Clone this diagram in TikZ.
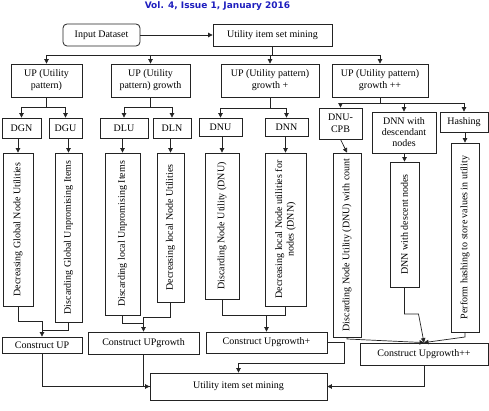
\documentclass[tikz,border=0pt]{standalone}
\usepackage{fontspec}
\setmainfont{Liberation Serif}
\newfontfamily\hdrfont{DejaVu Sans}
\usetikzlibrary{arrows.meta}
\definecolor{hdrblue}{RGB}{30,30,190}
\definecolor{ln}{RGB}{35,35,35}
\begin{document}
\begin{tikzpicture}[x=1pt,y=-1pt,
  box/.style={draw=ln, line width=0.8pt, inner sep=1pt, align=center, font=\fontsize{10}{12}\selectfont},
  tall/.style={draw=ln, line width=0.8pt, inner sep=0pt},
  vtext/.style={rotate=90, inner sep=0pt, align=center, font=\fontsize{10}{11.5}\selectfont},
  hdr/.style={inner sep=0pt, text=hdrblue, font=\hdrfont\fontsize{9}{10}\selectfont\bfseries},
  arr/.style={-{Triangle[length=4.5pt,width=4.5pt]}},
  con/.style={draw=ln, line width=0.7pt}]
\useasboundingbox (0,0) rectangle (489,411);

\node[hdr] (hdr) at (217.5,6.5) {Vol. 4, Issue 1, January 2016};

% top row
\node[box, rounded corners=4pt, minimum width=77pt, minimum height=22pt] (inp) at (101.5,35) {Input Dataset};
\node[box, minimum width=119pt, minimum height=22pt] (top) at (272.5,35) {Utility item set mining};

% UP boxes
\node[box, minimum width=71pt, minimum height=33pt] (up1) at (46.5,80.5) {UP (Utility\\pattern)};
\node[box, minimum width=79pt, minimum height=33pt] (up2) at (150.5,80.5) {UP (Utility\\pattern) growth};
\node[box, minimum width=98pt, minimum height=33pt] (up3) at (270,80.5) {UP (Utility pattern)\\growth +};
\node[box, minimum width=96pt, minimum height=33pt] (up4) at (380,80.5) {UP (Utility pattern)\\growth ++};

% small boxes
\node[box, minimum width=39pt, minimum height=20pt] (dgn) at (21.5,128) {DGN};
\node[box, minimum width=33pt, minimum height=20pt] (dgu) at (65.5,128) {DGU};
\node[box, minimum width=48pt, minimum height=20pt] (dlu) at (124,128) {DLU};
\node[box, minimum width=38pt, minimum height=20pt] (dln) at (172,128) {DLN};
\node[box, minimum width=43pt, minimum height=18pt] (dnu) at (220.5,127) {DNU};
\node[box, minimum width=43pt, minimum height=18pt] (dnn) at (286.5,127) {DNN};
\node[box, minimum width=43pt, minimum height=31pt] (cpb) at (340.5,123.5) {DNU-\\CPB};
\node[box, minimum width=64pt, minimum height=41pt, font=\fontsize{10}{11}\selectfont] (dsc) at (404,132.5) {DNN with\\descendant\\nodes};
\node[box, minimum width=48pt, minimum height=20pt] (hsh) at (464,122) {Hashing};

% tall boxes
\node[tall, minimum width=30pt, minimum height=153pt] (t1) at (18,229.5) {};
\node[tall, minimum width=27pt, minimum height=169pt] (t2) at (68.5,237.5) {};
\node[tall, minimum width=35pt, minimum height=162pt] (t3) at (122.5,234) {};
\node[tall, minimum width=27pt, minimum height=149pt] (t4) at (170.5,227.5) {};
\node[tall, minimum width=34pt, minimum height=146pt] (t5) at (222,226) {};
\node[tall, minimum width=41pt, minimum height=153pt] (t6) at (285.5,229.5) {};
\node[tall, minimum width=28pt, minimum height=184pt] (t7) at (347,245) {};
\node[tall, minimum width=29pt, minimum height=125pt] (t8) at (404.5,224.5) {};
\node[tall, minimum width=28pt, minimum height=189pt] (t9) at (465,237.5) {};

\node[vtext] (l1) at (t1.center) {Decreasing Global Node Utilities};
\node[vtext] (l2) at (t2.center) {Discarding Global Unpromising Items};
\node[vtext] (l3) at (t3.center) {Discarding local Unpromising Items};
\node[vtext] (l4) at (t4.center) {Decreasing local Node Utilities};
\node[vtext] (l5) at (t5.center) {Discarding Node Utility (DNU)};
\node[vtext] (l6) at (t6.center) {Decreasing local Node utilities for\\nodes (DNN)};
\node[vtext] (l7) at (t7.center) {Discarding Node Utility (DNU) with count};
\node[vtext] (l8) at (t8.center) {DNN with descent nodes};
\node[vtext] (l9) at (t9.center) {Perform hashing to store values in utility};

% construct boxes
\node[box, minimum width=80pt, minimum height=16pt] (c1) at (42,345) {Construct UP};
\node[box, minimum width=111pt, minimum height=22pt] (c2) at (143.5,343) {Construct UPgrowth};
\node[box, minimum width=121pt, minimum height=21pt] (c3) at (266.5,342.5) {Construct Upgrowth+};
\node[box, minimum width=128pt, minimum height=22pt] (c4) at (424,354) {Construct Upgrowth++};
\node[box, minimum width=177pt, minimum height=27pt] (bot) at (238.5,386.5) {Utility item set mining};

% bus coordinates
\coordinate (b0) at (0,55);
\coordinate (b1) at (0,107);
\coordinate (b3) at (0,108);
\coordinate (b4) at (0,103);

% top connectors
\draw[con,arr] (inp.east) -- (top.west);
\draw[con] (top.south) -- (top.south |- b0);
\draw[con] (up1.north |- b0) -- (up4.north |- b0);
\foreach \n in {up1,up2,up3,up4} {\draw[con,arr] (\n.north |- b0) -- (\n.north);}

% UP -> small boxes
\draw[con] (up1.south) -- (up1.south |- b1);
\draw[con] (dgn.north |- b1) -- (dgu.north |- b1);
\foreach \n in {dgn,dgu} {\draw[con,arr] (\n.north |- b1) -- (\n.north);}

\draw[con] (up2.south) -- (up2.south |- b1);
\draw[con] (dlu.north |- b1) -- (dln.north |- b1);
\foreach \n in {dlu,dln} {\draw[con,arr] (\n.north |- b1) -- (\n.north);}

\draw[con] (up3.south) -- (up3.south |- b3);
\draw[con] (dnu.north |- b3) -- (dnn.north |- b3);
\foreach \n in {dnu,dnn} {\draw[con,arr] (\n.north |- b3) -- (\n.north);}

\draw[con] (up4.south) -- (up4.south |- b4);
\draw[con] (cpb.north |- b4) -- (hsh.north |- b4);
\foreach \n in {cpb,dsc,hsh} {\draw[con,arr] (\n.north |- b4) -- (\n.north);}

% small -> tall
\draw[con,arr] (t1.north |- dgn.south) -- (t1.north);
\draw[con,arr] (t2.north |- dgu.south) -- (t2.north);
\draw[con,arr] (t3.north |- dlu.south) -- (t3.north);
\draw[con,arr] (t4.north |- dln.south) -- (t4.north);
\draw[con,arr] (t5.north |- dnu.south) -- (t5.north);
\draw[con,arr] (t6.north |- dnn.south) -- (t6.north);
\draw[con,arr] (cpb.south) -- (t7.north);
\draw[con,arr] (t8.north |- dsc.south) -- (t8.north);
\draw[con,arr] (t9.north |- hsh.south) -- (t9.north);

% tall -> construct
\coordinate (j1a) at (42,321);
\coordinate (j1b) at (42,330);
\draw[con,arr] (t1.south) |- (j1a) -- (c1.north);
\draw[con] (t2.south) |- (j1b);

\coordinate (j2a) at (143.5,317);
\coordinate (j2b) at (143.5,323);
\draw[con,arr] (t4.south) |- (j2a) -- (c2.north);
\draw[con] (t3.south) |- (j2b);

\coordinate (j3) at (266.5,315.5);
\draw[con] (t5.south) |- (j3);
\draw[con,arr] (t6.south) |- (j3) -- (c3.north);

\coordinate (k7) at (347,339);
\coordinate (k8a) at (404.5,314);
\coordinate (k8b) at (418.5,314);
\coordinate (k9) at (465,337);
\draw[con,arr] (t7.south) -- (k7) -- (c4.north);
\draw[con,arr] (t8.south) -- (k8a) -- (k8b) -- (c4.north);
\draw[con,arr] (t9.south) -- (k9) -- (c4.north);

% construct -> bottom
\coordinate (m3a) at (344,342.5);
\coordinate (m3b) at (344,363);
\coordinate (m3c) at (238.5,363);
\draw[con,arr] (c3.east) -- (m3a) -- (m3b) -- (m3c) -- (bot.north);
\draw[con,arr] (c1.south) |- (bot.west);
\draw[con] (c2.south) |- (bot.west);
\draw[con,arr] (c4.south) |- (bot.east);
\end{tikzpicture}
\end{document}
